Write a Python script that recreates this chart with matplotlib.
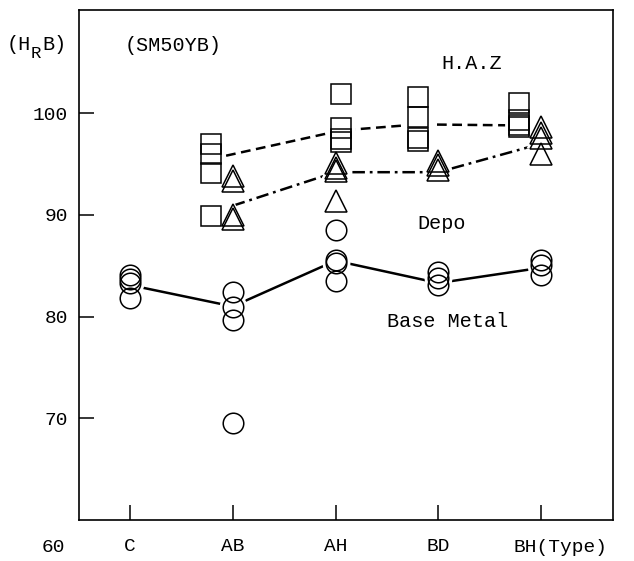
import numpy as np
import matplotlib
matplotlib.use("Agg")
import matplotlib.pyplot as plt
import matplotlib.transforms as mtrans

plt.rcParams['font.family'] = ['Liberation Mono', 'DejaVu Sans Mono']
plt.rcParams['lines.scale_dashes'] = False

types = ['C', 'AB', 'AH', 'BD', 'BH']

# readings per type (HRB)
base_pts = [[84.1, 83.7, 83.3, 81.8],
            [82.4, 80.9, 79.7, 69.5],
            [88.5, 85.6, 85.3, 83.5],
            [84.4, 83.8, 83.1],
            [85.6, 85.1, 84.1]]
base_line = [83.1, 81.0, 85.5, 83.3, 84.8]

haz_types = ['AB', 'AH', 'BD', 'BH']
haz_pts = [[97.0, 96.0, 94.1, 89.9],
           [101.9, 98.5, 97.5, 97.2],
           [101.6, 99.6, 97.6, 97.3],
           [101.0, 99.3, 98.8, 98.6]]
haz_line = [95.5, 98.3, 98.9, 98.8]

depo_types = ['AB', 'AH', 'BD', 'BH']
depo_pts = [[93.8, 93.3, 90.0, 89.6],
            [95.1, 94.6, 94.3, 91.4],
            [95.3, 94.9, 94.4],
            [98.6, 98.1, 97.6, 96.0]]
depo_line = [90.9, 94.2, 94.2, 97.0]

# horizontal shift of each group next to its tick
haz_shift = {'AB': -0.21, 'AH': 0.05, 'BD': -0.2, 'BH': -0.21}

fig = plt.figure(figsize=(6.34, 5.61), dpi=100)
ax = fig.add_axes([0.1246, 0.0731, 0.8423, 0.9091])


def flat(names, pts, shift=None):
    xs, ys = [], []
    for n, vals in zip(names, pts):
        x = types.index(n) + (shift[n] if shift else 0)
        xs += [x] * len(vals)
        ys += vals
    return xs, ys


bx, by = flat(types, base_pts)
hx, hy = flat(haz_types, haz_pts, haz_shift)
dx, dy = flat(depo_types, depo_pts)

lx_base = [types.index(t) for t in types]
lx_haz = [types.index(t) + haz_shift[t] for t in haz_types]
lx_depo = [types.index(t) for t in depo_types]

lw = 1.8
ax.plot(lx_base, base_line, color='black', lw=lw, zorder=1)
l1, = ax.plot(lx_haz, haz_line, color='black', lw=lw, zorder=1)
l1.set_dashes([7, 4])
l2, = ax.plot(lx_depo, depo_line, color='black', lw=lw, zorder=1)
l2.set_dashes([9, 3.5, 2, 3.5])

# white masks so the lines stop short of the symbols
ax.plot(bx, by, 'o', ms=20, mfc='white', mec='none', zorder=2)
ax.plot(hx, hy, 's', ms=20, mfc='white', mec='none', zorder=2)
ax.plot(dx, dy, '^', ms=21, mfc='white', mec='none', zorder=2)

ax.plot(bx, by, 'o', ms=14.8, mfc='none', mec='black', mew=1.1, zorder=3)
ax.plot(hx, hy, 's', ms=15, mfc='none', mec='black', mew=1.1, zorder=3)
ax.plot(dx, dy, '^', ms=16.5, mfc='none', mec='black', mew=1.1, zorder=3)

ax.set_xlim(-0.496, 4.70)
ax.set_ylim(60, 110.15)

ax.set_xticks(range(len(types)))
ax.set_xticklabels(types[:-1] + [''])
ax.set_yticks([70, 80, 90, 100])
ax.tick_params(axis='both', direction='in', length=10.5, width=1.1,
               labelsize=14)
ax.tick_params(axis='x', pad=13)
ax.tick_params(axis='y', pad=8)
for s in ax.spines.values():
    s.set_linewidth(1.2)

tr = mtrans.blended_transform_factory(ax.transData, ax.transAxes)
ax.text(3.73, -0.053, 'BH(Type)', transform=tr, ha='left', va='center',
        fontsize=14)
ax.text(-0.75, -0.053, '60', transform=tr, ha='center', va='center',
        fontsize=14)

# (H_R B) axis unit, built from pieces so the subscript stays large
W, H = 634, 561
fig.text(7 / W, 1 - 45 / H, '(H', ha='left', va='center', fontsize=14.5)
fig.text(31 / W, 1 - 54 / H, 'R', ha='left', va='center', fontsize=12.5)
fig.text(42 / W, 1 - 45 / H, 'B)', ha='left', va='center', fontsize=14.5)

ax.text(-0.05, 106.7, '(SM50YB)', ha='left', va='center', fontsize=14.5)
ax.text(3.03, 104.9, 'H.A.Z', ha='left', va='center', fontsize=14.5)
ax.text(2.8, 89.2, 'Depo', ha='left', va='center', fontsize=14.5)
ax.text(2.5, 79.5, 'Base Metal', ha='left', va='center', fontsize=14.5)

fig.savefig('out.png', dpi=100)
